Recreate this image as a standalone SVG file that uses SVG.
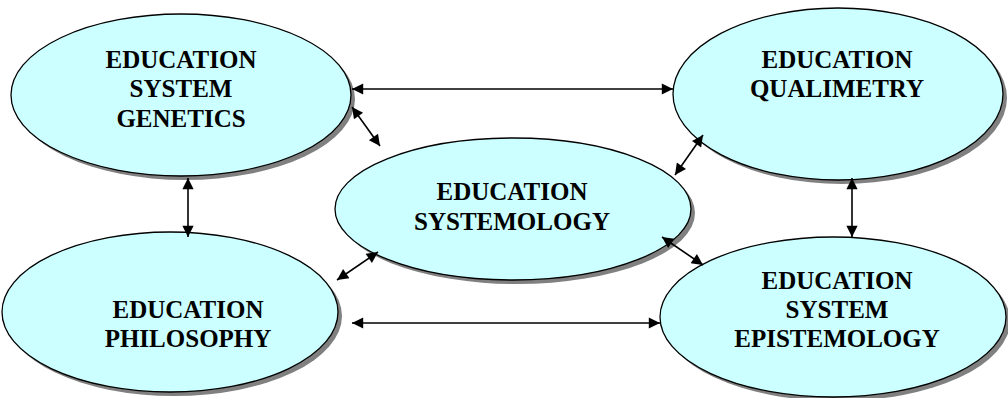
<svg xmlns="http://www.w3.org/2000/svg" width="1008" height="398" viewBox="0 0 1008 398">
<style>
.node ellipse.sh{fill:#808080;stroke:none}
.node ellipse.bd{fill:#ccffff;stroke:#000;stroke-width:1.3}
.node text{font-family:"Liberation Serif","Times New Roman",serif;font-weight:bold;font-size:25px;fill:#000;text-anchor:middle}
#connectors line{stroke:#000;stroke-width:1.6;marker-start:url(#ah);marker-end:url(#ah)}
</style>
<defs>
<marker id="ah" viewBox="0 0 10 10" refX="10" refY="5" markerWidth="8" markerHeight="7" markerUnits="strokeWidth" orient="auto-start-reverse">
<path d="M0,0 L10,5 L0,10 Z" fill="#000"/>
</marker>
</defs>
<rect width="1008" height="398" fill="#fff"/>
<g id="n-genetics" class="node">
<ellipse class="sh" cx="185" cy="99" rx="170" ry="81"/>
<ellipse class="bd" cx="181" cy="95" rx="170" ry="81"/>
<text x="181" y="68">EDUCATION</text>
<text x="181" y="97">SYSTEM</text>
<text x="181" y="127">GENETICS</text>
</g>
<g id="n-qualimetry" class="node">
<ellipse class="sh" cx="842" cy="98" rx="165" ry="86"/>
<ellipse class="bd" cx="838" cy="94" rx="165" ry="86"/>
<text x="837" y="68">EDUCATION</text>
<text x="837" y="97">QUALIMETRY</text>
</g>
<g id="n-systemology" class="node">
<ellipse class="sh" cx="517" cy="213" rx="178" ry="71"/>
<ellipse class="bd" cx="513" cy="209" rx="178" ry="71"/>
<text x="512" y="200">EDUCATION</text>
<text x="512" y="230">SYSTEMOLOGY</text>
</g>
<g id="n-philosophy" class="node">
<ellipse class="sh" cx="174" cy="316" rx="168" ry="80"/>
<ellipse class="bd" cx="170" cy="312" rx="168" ry="80"/>
<text x="188" y="318">EDUCATION</text>
<text x="188" y="347">PHILOSOPHY</text>
</g>
<g id="n-epistemology" class="node">
<ellipse class="sh" cx="837" cy="321" rx="173" ry="80"/>
<ellipse class="bd" cx="833" cy="317" rx="173" ry="80"/>
<text x="837" y="289">EDUCATION</text>
<text x="837" y="318">SYSTEM</text>
<text x="837" y="347">EPISTEMOLOGY</text>
</g>
<g id="connectors">
<line x1="352" y1="89" x2="673" y2="89"/>
<line x1="352" y1="107" x2="380" y2="146"/>
<line x1="188" y1="178" x2="188" y2="237"/>
<line x1="378" y1="252" x2="337" y2="280"/>
<line x1="675" y1="175" x2="703" y2="135"/>
<line x1="662" y1="237" x2="703" y2="265"/>
<line x1="852" y1="178" x2="852" y2="237"/>
<line x1="352" y1="323" x2="660" y2="323"/>
</g>
</svg>
